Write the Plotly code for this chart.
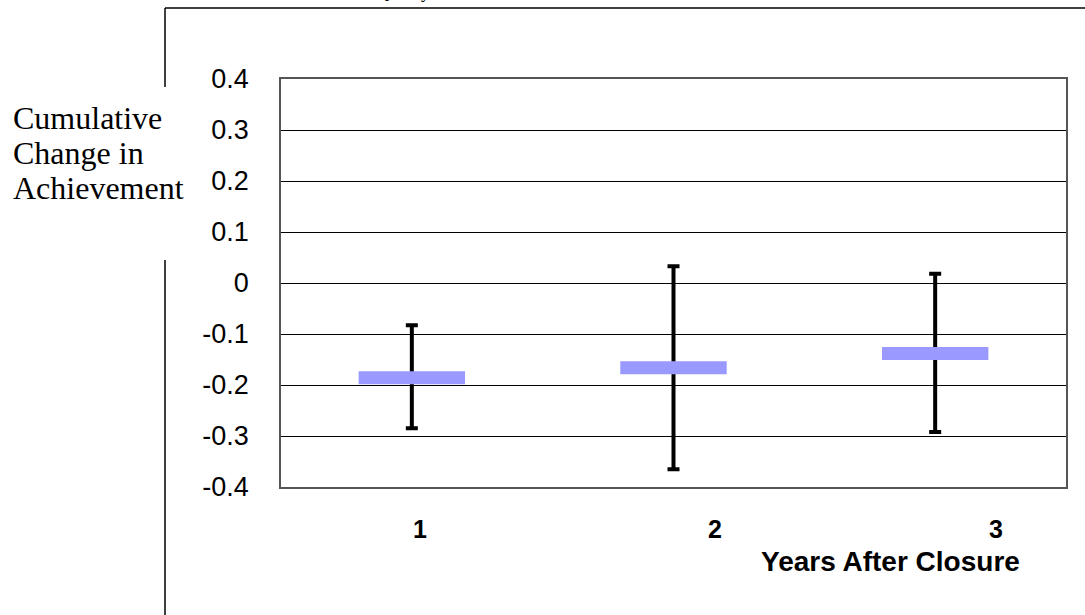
import plotly.graph_objects as go

# ---- data ----
years = [1, 2, 3]
year_labels = ["1", "2", "3"]
estimate = [-0.186, -0.166, -0.138]
upper = [-0.083, 0.033, 0.018]
lower = [-0.285, -0.365, -0.292]
y_ticks = [0.4, 0.3, 0.2, 0.1, 0, -0.1, -0.2, -0.3, -0.4]
y_tick_text = ["0.4", "0.3", "0.2", "0.1", "0", "-0.1", "-0.2", "-0.3", "-0.4"]

W, H = 1085, 615
ML, MR, MT, MB = 281, 19, 79, 128
PW, PH = W - ML - MR, H - MT - MB


def px(x):
    return (x - ML) / PW


def py(y):
    return (H - MB - y) / PH


err_plus = [u - e for u, e in zip(upper, estimate)]
err_minus = [e - l for e, l in zip(estimate, lower)]

fig = go.Figure()
fig.add_trace(go.Scatter(
    x=years, y=estimate, mode="markers",
    marker=dict(size=1, color="rgba(0,0,0,0)"),
    error_y=dict(type="data", symmetric=False, array=err_plus, arrayminus=err_minus,
                 color="black", thickness=4, width=6),
    showlegend=False, hoverinfo="skip",
))
fig.add_trace(go.Scatter(
    x=years, y=estimate, mode="markers",
    marker=dict(symbol="line-ew", size=76, line=dict(width=13, color="#9999ff")),
    showlegend=False,
))

serif = "Liberation Serif, Times New Roman, serif"
sans = "Liberation Sans, Arial, sans-serif"

fig.update_layout(
    width=W, height=H,
    margin=dict(l=ML, r=MR, t=MT, b=MB, pad=0),
    paper_bgcolor="white", plot_bgcolor="white",
    xaxis=dict(range=[0.5, 3.5], showticklabels=False, showgrid=False, zeroline=False,
               showline=True, linecolor="#555555", linewidth=1.5, mirror=True, ticks=""),
    yaxis=dict(range=[-0.4, 0.4], tickvals=y_ticks, ticktext=y_tick_text,
               showgrid=True, gridcolor="black", gridwidth=1, zeroline=False,
               showline=True, linecolor="#555555", linewidth=1.5, mirror=True,
               ticks="", ticklabelstandoff=25,
               tickfont=dict(family=sans, size=27, color="black")),
)

# x tick labels (offset as in the original)
shifts = [8, 41, 61]
for yr, lab, s in zip(years, year_labels, shifts):
    fig.add_annotation(x=yr, y=py(529), xref="x", yref="paper", xshift=s,
                       text="<b>" + lab + "</b>", showarrow=False,
                       font=dict(family=sans, size=25, color="black"),
                       xanchor="center", yanchor="middle")

fig.add_annotation(x=px(890), y=py(561), xref="paper", yref="paper",
                   text="<b>Years After Closure</b>", showarrow=False,
                   font=dict(family=sans, size=28, color="black"),
                   xanchor="center", yanchor="middle")

# y-axis title as three lines
for txt, yc in [("Cumulative", 118), ("Change in", 153), ("Achievement", 188)]:
    fig.add_annotation(x=px(11), y=py(yc), xref="paper", yref="paper",
                       text=txt, showarrow=False,
                       font=dict(family=serif, size=32, color="black"),
                       xanchor="left", yanchor="middle")

# partially visible title cut off at the top
fig.add_annotation(x=px(403), y=py(-8), xref="paper", yref="paper",
                   text="Quality", showarrow=False,
                   font=dict(family=serif, size=18, color="black"),
                   xanchor="center", yanchor="middle")

# outer frame lines
frame = dict(color="black", width=1.5)
fig.add_shape(type="line", xref="paper", yref="paper",
              x0=px(165), x1=px(1090), y0=py(8), y1=py(8), line=frame)
fig.add_shape(type="line", xref="paper", yref="paper",
              x0=px(165), x1=px(165), y0=py(8), y1=py(87), line=frame)
fig.add_shape(type="line", xref="paper", yref="paper",
              x0=px(165), x1=px(165), y0=py(260), y1=py(620), line=frame)

fig.write_html("out.html", config={"displayModeBar": False},
               post_script="document.body.style.margin='0';")
